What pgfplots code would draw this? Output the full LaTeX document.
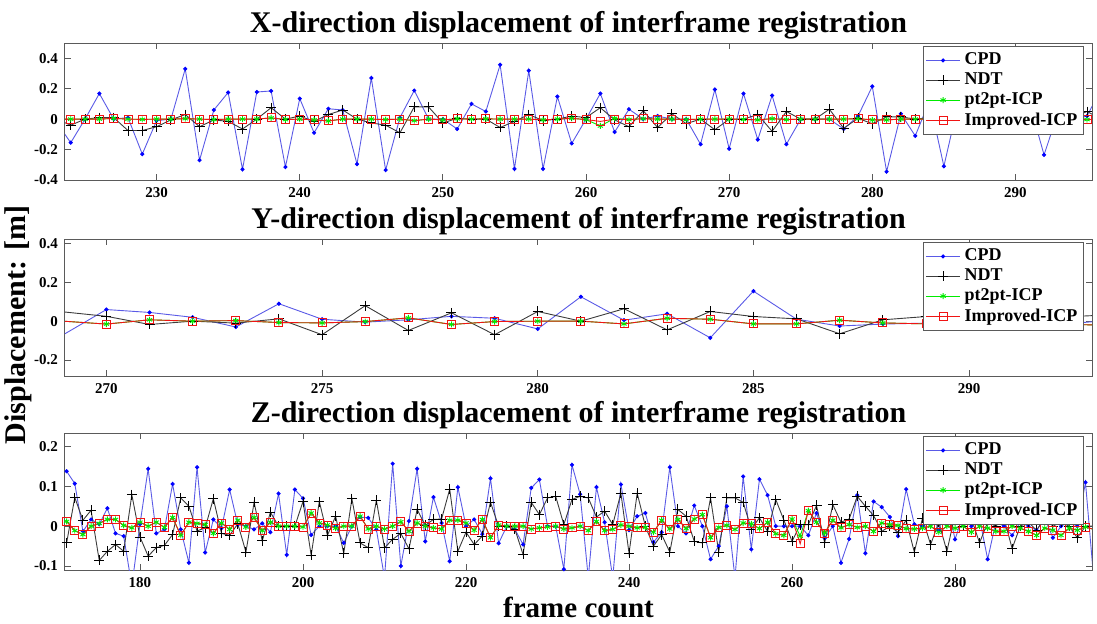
\documentclass[border=0pt]{standalone}
\usepackage{fontspec}
\setmainfont{Liberation Serif}
\usepackage{pgfplots}
\pgfplotsset{compat=1.18}

\definecolor{cpdline}{RGB}{90,90,230}
\definecolor{ndtline}{RGB}{60,60,60}
\definecolor{ptgreen}{RGB}{0,235,0}
\definecolor{impred}{RGB}{240,20,20}
\definecolor{axgray}{RGB}{90,90,90}

\pgfplotsset{
  every axis title shift=0pt,
  panel/.style={
    scale only axis, width=513.5pt, height=68.5pt,
    axis line style={axgray, line width=0.5pt},
    tick style={axgray, line width=0.4pt},
    major tick length=3pt,
    tick label style={font=\bfseries\fontsize{7.5}{8}\selectfont},
    title style={font=\bfseries\fontsize{15}{16}\selectfont, inner sep=0pt, yshift=1.5pt},
    legend cell align=left,
    legend style={at={(rel axis cs:0.992,0.975)}, anchor=north east,
      font=\bfseries\fontsize{9}{10}\selectfont, draw=axgray, fill=white,
      line width=0.5pt, inner sep=1pt, row sep=-1.5pt},
  },
  cpd/.style={color=cpdline, line width=0.45pt, mark=*, mark size=0.8pt,
    mark options={draw=blue, fill=blue}},
  ndt/.style={color=ndtline, line width=0.45pt, mark=+, mark size=2.5pt,
    mark options={black}},
  pt/.style={color=ptgreen, line width=0.45pt, mark=asterisk, mark size=1.5pt},
  imp/.style={color=impred, line width=0.45pt, mark=square, mark size=2pt,
    mark options={fill=none}},
}

\begin{document}
\begin{tikzpicture}
\useasboundingbox (0,0) rectangle (548.5pt,311.5pt);

% ---------- X direction ----------
\begin{axis}[panel, at={(32.5pt,290pt)}, anchor=north west,
  title={X-direction displacement of interframe registration},
  xmin=223.6, xmax=295.35, ymin=-0.4, ymax=0.5,
  xtick={230,240,...,290}, xticklabels={230,240,250,260,270,280,290},
  ytick={-0.4,-0.2,0,0.2,0.4}, yticklabels={-0.4,-0.2,0,0.2,0.4}]
\addplot[cpd] coordinates {
(223,-0.02)(224,-0.155)(225,0.0)(226,0.168)(227,0.0)(228,0.01)(229,-0.23)(230,-0.01)
(231,0.0)(232,0.33)(233,-0.27)(234,0.06)(235,0.175)(236,-0.33)(237,0.178)(238,0.185)
(239,-0.315)(240,0.135)(241,-0.09)(242,0.068)(243,0.06)(244,-0.295)(245,0.27)(246,-0.335)
(247,0.01)(248,0.188)(249,0.0)(250,0.0)(251,-0.065)(252,0.1)(253,0.05)(254,0.357)
(255,-0.327)(256,0.318)(257,-0.327)(258,0.148)(259,-0.16)(260,0.0)(261,0.168)(262,-0.085)
(263,0.065)(264,0.0)(265,0.02)(266,0.0)(267,0.0)(268,-0.165)(269,0.195)(270,-0.195)
(271,0.168)(272,-0.135)(273,0.155)(274,-0.165)(275,0.0)(276,0.0)(277,0.0)(278,-0.065)
(279,0.02)(280,0.215)(281,-0.345)(282,0.035)(283,-0.11)(284,0.12)(285,-0.31)(286,0.1)
(287,-0.05)(288,0.15)(289,-0.08)(290,0.05)(291,0.1)(292,-0.235)(293,0.05)(294,0.0)
(295,0.02)(296,0.2)};
\addplot[ndt] coordinates {
(223,0.0)(224,-0.04)(225,0.0)(226,0.01)(227,0.01)(228,-0.075)(229,-0.075)(230,-0.05)
(231,-0.005)(232,0.03)(233,-0.05)(234,-0.005)(235,-0.015)(236,-0.065)(237,0.0)(238,0.075)
(239,0.0)(240,0.02)(241,-0.015)(242,0.03)(243,0.06)(244,0.0)(245,-0.025)(246,-0.04)
(247,-0.09)(248,0.08)(249,0.08)(250,-0.025)(251,0.005)(252,0.0)(253,0.0)(254,-0.055)
(255,-0.015)(256,0.03)(257,-0.01)(258,0.0)(259,0.02)(260,0.01)(261,0.075)(262,-0.005)
(263,-0.05)(264,0.055)(265,-0.055)(266,0.035)(267,-0.03)(268,0.0)(269,-0.07)(270,0.0)
(271,0.0)(272,0.03)(273,-0.08)(274,0.05)(275,0.0)(276,0.0)(277,0.065)(278,-0.06)
(279,0.005)(280,-0.03)(281,0.015)(282,0.015)(283,0.0)(284,0.01)(285,-0.02)(286,0.03)
(287,0.0)(288,-0.01)(289,0.02)(290,0.0)(291,-0.02)(292,0.01)(293,0.0)(294,0.01)
(295,0.05)(296,0.0)};
\addplot[pt] coordinates {
(223,0.0)(224,0.0)(225,0.0)(226,0.0)(227,0.005)(228,0.0)(229,-0.002)(230,0.0)
(231,0.0)(232,0.003)(233,0.0)(234,-0.003)(235,0.0)(236,0.0)(237,0.0)(238,0.008)
(239,-0.003)(240,0.0)(241,-0.005)(242,-0.012)(243,0.0)(244,0.0)(245,0.0)(246,-0.003)
(247,0.0)(248,-0.01)(249,0.0)(250,-0.005)(251,0.002)(252,0.0)(253,0.002)(254,0.0)
(255,0.0)(256,0.0)(257,-0.005)(258,0.0)(259,0.005)(260,-0.003)(261,-0.045)(262,0.005)
(263,-0.003)(264,0.003)(265,0.0)(266,0.0)(267,-0.003)(268,0.0)(269,0.0)(270,0.0)
(271,-0.002)(272,-0.005)(273,0.003)(274,-0.003)(275,0.0)(276,0.0)(277,0.0)(278,0.0)
(279,0.003)(280,-0.005)(281,-0.005)(282,0.0)(283,0.0)(284,0.0)(285,0.0)(286,0.0)
(287,0.0)(288,0.0)(289,0.0)(290,0.0)(291,0.0)(292,0.0)(293,0.0)(294,0.0)
(295,-0.003)(296,0.0)};
\addplot[imp] coordinates {
(223,0.0)(224,0.0)(225,0.0)(226,0.0)(227,0.005)(228,0.0)(229,-0.002)(230,0.0)
(231,0.0)(232,0.003)(233,0.0)(234,-0.003)(235,0.0)(236,0.0)(237,0.0)(238,0.008)
(239,-0.003)(240,0.0)(241,-0.005)(242,-0.012)(243,0.0)(244,0.0)(245,0.0)(246,-0.003)
(247,0.0)(248,-0.01)(249,0.0)(250,-0.005)(251,0.002)(252,0.0)(253,0.002)(254,0.0)
(255,0.0)(256,0.0)(257,-0.005)(258,0.0)(259,0.005)(260,-0.003)(261,-0.015)(262,0.0)
(263,-0.003)(264,0.003)(265,0.0)(266,0.0)(267,-0.003)(268,0.0)(269,0.0)(270,0.0)
(271,-0.002)(272,-0.005)(273,0.003)(274,-0.003)(275,0.0)(276,0.0)(277,0.0)(278,0.0)
(279,0.003)(280,-0.005)(281,-0.005)(282,0.0)(283,0.0)(284,0.0)(285,0.0)(286,0.0)
(287,0.0)(288,0.0)(289,0.0)(290,0.0)(291,0.0)(292,0.0)(293,0.0)(294,0.0)
(295,-0.003)(296,0.0)};
\legend{CPD,NDT,pt2pt-ICP,Improved-ICP}
\end{axis}

% ---------- Y direction ----------
\begin{axis}[panel, at={(32.5pt,192pt)}, anchor=north west,
  title={Y-direction displacement of interframe registration},
  xmin=269.04, xmax=292.85, ymin=-0.283, ymax=0.424,
  xtick={270,275,...,290}, xticklabels={270,275,280,285,290},
  ytick={-0.2,0,0.2,0.4}, yticklabels={-0.2,0,0.2,0.4}]
\addplot[cpd] coordinates {
(269,-0.07)(270,0.06)(271,0.045)(272,0.02)(273,-0.03)(274,0.09)(275,0.01)(276,-0.005)
(277,0.007)(278,0.025)(279,0.015)(280,-0.04)(281,0.126)(282,0.005)(283,0.038)(284,-0.086)
(285,0.155)(286,0.01)(287,-0.025)(288,-0.015)(289,-0.01)(290,0.0)(291,0.02)(292,-0.02)
(293,0.0)};
\addplot[ndt] coordinates {
(269,0.048)(270,0.025)(271,-0.017)(272,0.0)(273,-0.01)(274,0.012)(275,-0.07)(276,0.08)
(277,-0.048)(278,0.043)(279,-0.07)(280,0.05)(281,0.0)(282,0.064)(283,-0.045)(284,0.05)
(285,0.024)(286,0.012)(287,-0.065)(288,0.007)(289,0.024)(290,0.03)(291,0.0)(292,0.02)
(293,0.03)};
\addplot[pt] coordinates {
(269,0.0)(270,-0.015)(271,0.007)(272,0.0)(273,0.003)(274,-0.007)(275,-0.009)(276,-0.002)
(277,0.017)(278,-0.017)(279,-0.002)(280,0.0)(281,0.0)(282,-0.014)(283,0.015)(284,0.01)
(285,-0.014)(286,-0.014)(287,0.005)(288,-0.009)(289,-0.014)(290,-0.01)(291,-0.005)(292,-0.015)
(293,-0.02)};
\addplot[imp] coordinates {
(269,0.0)(270,-0.015)(271,0.007)(272,0.0)(273,0.003)(274,-0.007)(275,-0.009)(276,-0.002)
(277,0.017)(278,-0.017)(279,-0.002)(280,0.0)(281,0.0)(282,-0.014)(283,0.015)(284,0.01)
(285,-0.014)(286,-0.014)(287,0.005)(288,-0.009)(289,-0.014)(290,-0.01)(291,-0.005)(292,-0.015)
(293,-0.02)};
\legend{CPD,NDT,pt2pt-ICP,Improved-ICP}
\end{axis}

% ---------- Z direction ----------
\begin{axis}[panel, at={(32.5pt,95pt)}, anchor=north west,
  title={Z-direction displacement of interframe registration},
  xmin=170.8, xmax=296.8, ymin=-0.11, ymax=0.234,
  xtick={180,200,...,280}, xticklabels={180,200,220,240,260,280},
  ytick={-0.1,0,0.1,0.2}, yticklabels={-0.1,0,0.1,0.2}]
\addplot[cpd] coordinates {
(171,0.138)(172,0.107)(173,-0.013)(174,0.017)(175,0.005)(176,0.045)(177,-0.018)(178,-0.025)
(179,-0.15)(180,0.005)(181,0.144)(182,-0.018)(183,-0.008)(184,0.106)(185,-0.008)(186,-0.092)
(187,0.148)(188,-0.066)(189,0.017)(190,-0.005)(191,0.092)(192,0.004)(193,0.0)(194,-0.008)
(195,0.007)(196,-0.015)(197,0.082)(198,-0.072)(199,0.092)(200,0.07)(201,-0.022)(202,0.0)
(203,0.0)(204,0.0)(205,-0.042)(206,0.0)(207,0.023)(208,0.021)(209,-0.008)(210,-0.13)
(211,0.157)(212,-0.1)(213,0.013)(214,0.144)(215,-0.038)(216,0.073)(217,0.008)(218,-0.088)
(219,0.098)(220,0.0)(221,0.017)(222,-0.02)(223,0.12)(224,-0.043)(225,0.0)(226,-0.008)
(227,-0.046)(228,0.096)(229,0.117)(230,0.0)(231,0.0)(232,-0.108)(233,0.154)(234,0.08)
(235,-0.13)(236,0.098)(237,0.01)(238,-0.13)(239,0.105)(240,-0.01)(241,0.025)(242,0.033)
(243,-0.04)(244,-0.015)(245,0.148)(246,0.0)(247,-0.018)(248,0.052)(249,0.0)(250,-0.083)
(251,-0.05)(252,0.05)(253,-0.13)(254,0.125)(255,-0.058)(256,0.118)(257,0.078)(258,0.0)
(259,0.0)(260,0.0)(261,0.0)(262,-0.023)(263,0.033)(264,-0.03)(265,0.0)(266,-0.092)
(267,-0.032)(268,0.078)(269,-0.068)(270,0.062)(271,0.048)(272,0.023)(273,-0.025)(274,0.093)
(275,0.005)(276,0.0)(277,0.04)(278,-0.01)(279,0.06)(280,-0.033)(281,0.03)(282,0.0)
(283,0.02)(284,-0.083)(285,0.01)(286,0.0)(287,-0.023)(288,0.01)(289,0.0)(290,-0.01)
(291,0.02)(292,-0.029)(293,0.0)(294,0.01)(295,0.0)(296,0.11)(297,-0.13)};
\addplot[ndt] coordinates {
(171,-0.042)(172,0.072)(173,0.015)(174,0.04)(175,-0.086)(176,-0.063)(177,-0.046)(178,-0.063)
(179,0.079)(180,-0.027)(181,-0.075)(182,-0.054)(183,-0.048)(184,-0.021)(185,0.071)(186,0.05)
(187,-0.012)(188,-0.004)(189,0.069)(190,-0.018)(191,-0.023)(192,0.006)(193,-0.065)(194,0.06)
(195,-0.037)(196,0.035)(197,0.0)(198,0.0)(199,0.0)(200,0.062)(201,-0.073)(202,0.062)
(203,-0.023)(204,0.025)(205,-0.068)(206,0.069)(207,-0.042)(208,-0.054)(209,0.065)(210,-0.054)
(211,-0.033)(212,-0.018)(213,-0.057)(214,0.042)(215,0.002)(216,0.017)(217,0.018)(218,0.093)
(219,-0.063)(220,-0.015)(221,-0.046)(222,-0.025)(223,0.06)(224,0.0)(225,0.0)(226,-0.008)
(227,-0.071)(228,0.06)(229,0.029)(230,0.071)(231,0.075)(232,0.004)(233,0.067)(234,0.075)
(235,0.071)(236,0.023)(237,0.038)(238,0.004)(239,0.083)(240,-0.068)(241,0.083)(242,0.0)
(243,-0.05)(244,-0.021)(245,-0.065)(246,0.042)(247,0.025)(248,-0.038)(249,-0.042)(250,0.071)
(251,-0.065)(252,0.071)(253,0.071)(254,0.06)(255,-0.007)(256,0.021)(257,-0.013)(258,0.067)
(259,0.015)(260,-0.038)(261,0.004)(262,0.004)(263,0.052)(264,-0.042)(265,0.054)(266,0.01)
(267,0.018)(268,0.075)(269,0.05)(270,0.027)(271,-0.013)(272,0.0)(273,-0.015)(274,0.015)
(275,-0.065)(276,0.02)(277,-0.046)(278,0.01)(279,-0.063)(280,0.03)(281,0.0)(282,0.02)
(283,-0.042)(284,0.01)(285,0.0)(286,0.02)(287,-0.056)(288,0.0)(289,0.01)(290,-0.01)
(291,0.02)(292,0.0)(293,0.01)(294,0.0)(295,-0.029)(296,0.0)(297,0.0)};
\addplot[pt] coordinates {
(171,0.012)(172,-0.011)(173,-0.021)(174,0.0)(175,0.007)(176,0.017)(177,0.017)(178,0.002)
(179,-0.004)(180,0.01)(181,0.0)(182,0.01)(183,-0.003)(184,0.022)(185,-0.023)(186,0.01)
(187,0.007)(188,0.004)(189,-0.018)(190,0.008)(191,-0.008)(192,0.015)(193,-0.002)(194,0.022)
(195,-0.011)(196,0.01)(197,0.0)(198,0.0)(199,0.0)(200,-0.002)(201,0.033)(202,0.008)
(203,0.003)(204,-0.005)(205,0.0)(206,0.0)(207,0.025)(208,-0.007)(209,0.0)(210,-0.007)
(211,0.0)(212,0.011)(213,-0.013)(214,0.008)(215,0.0)(216,-0.004)(217,-0.007)(218,0.015)
(219,0.015)(220,0.008)(221,-0.01)(222,0.017)(223,-0.029)(224,0.003)(225,0.0)(226,0.0)
(227,0.0)(228,-0.007)(229,-0.004)(230,-0.002)(231,0.0)(232,-0.007)(233,-0.004)(234,0.0)
(235,-0.011)(236,0.012)(237,-0.011)(238,-0.008)(239,0.003)(240,0.0)(241,-0.004)(242,-0.003)
(243,-0.015)(244,0.015)(245,-0.007)(246,0.017)(247,-0.006)(248,0.018)(249,0.029)(250,-0.029)
(251,-0.003)(252,0.002)(253,-0.008)(254,0.008)(255,0.006)(256,-0.006)(257,0.01)(258,-0.019)
(259,-0.023)(260,0.018)(261,-0.025)(262,0.039)(263,0.01)(264,-0.017)(265,0.015)(266,-0.004)
(267,0.004)(268,-0.003)(269,0.0)(270,-0.013)(271,0.008)(272,0.004)(273,0.002)(274,-0.006)
(275,-0.007)(276,-0.005)(277,0.0)(278,-0.015)(279,0.0)(280,-0.005)(281,0.0)(282,-0.015)
(283,0.0)(284,-0.005)(285,-0.013)(286,-0.013)(287,0.0)(288,-0.005)(289,-0.013)(290,-0.023)
(291,-0.005)(292,-0.01)(293,-0.023)(294,-0.005)(295,-0.01)(296,-0.002)(297,-0.008)};
\addplot[imp] coordinates {
(171,0.012)(172,-0.011)(173,-0.021)(174,0.0)(175,0.007)(176,0.017)(177,0.017)(178,0.002)
(179,-0.004)(180,0.01)(181,0.0)(182,0.01)(183,-0.003)(184,0.022)(185,-0.023)(186,0.01)
(187,0.007)(188,0.004)(189,-0.018)(190,0.008)(191,-0.008)(192,0.015)(193,-0.002)(194,0.022)
(195,-0.011)(196,0.01)(197,0.0)(198,0.0)(199,0.0)(200,-0.002)(201,0.033)(202,0.008)
(203,0.003)(204,-0.005)(205,0.0)(206,0.0)(207,0.025)(208,-0.007)(209,0.0)(210,-0.007)
(211,0.0)(212,0.011)(213,-0.013)(214,0.008)(215,0.0)(216,-0.004)(217,-0.007)(218,0.015)
(219,0.015)(220,0.008)(221,-0.01)(222,0.017)(223,-0.029)(224,0.003)(225,0.0)(226,0.0)
(227,0.0)(228,-0.007)(229,-0.004)(230,-0.002)(231,0.0)(232,-0.007)(233,-0.004)(234,0.0)
(235,-0.011)(236,0.012)(237,-0.011)(238,-0.008)(239,0.003)(240,0.0)(241,-0.004)(242,-0.003)
(243,-0.015)(244,0.015)(245,-0.007)(246,0.017)(247,-0.006)(248,0.018)(249,0.029)(250,-0.029)
(251,-0.003)(252,0.002)(253,-0.008)(254,0.008)(255,0.006)(256,-0.006)(257,0.01)(258,-0.019)
(259,-0.023)(260,0.018)(261,-0.044)(262,0.039)(263,0.01)(264,-0.017)(265,0.015)(266,-0.004)
(267,0.004)(268,-0.003)(269,0.0)(270,-0.013)(271,0.008)(272,0.004)(273,0.002)(274,-0.006)
(275,-0.007)(276,-0.005)(277,0.0)(278,-0.015)(279,0.0)(280,-0.005)(281,0.0)(282,-0.015)
(283,0.0)(284,-0.005)(285,-0.013)(286,-0.013)(287,0.0)(288,-0.005)(289,-0.013)(290,-0.023)
(291,-0.005)(292,-0.01)(293,-0.023)(294,-0.005)(295,-0.01)(296,-0.002)(297,-0.008)};
\legend{CPD,NDT,pt2pt-ICP,Improved-ICP}
\end{axis}

\node[rotate=90, font=\bfseries\fontsize{15}{17}\selectfont] at (9pt,149pt) {Displacement: [m]};
\node[font=\bfseries\fontsize{14.5}{16}\selectfont] at (289.25pt,8pt) {frame count};
\end{tikzpicture}
\end{document}
